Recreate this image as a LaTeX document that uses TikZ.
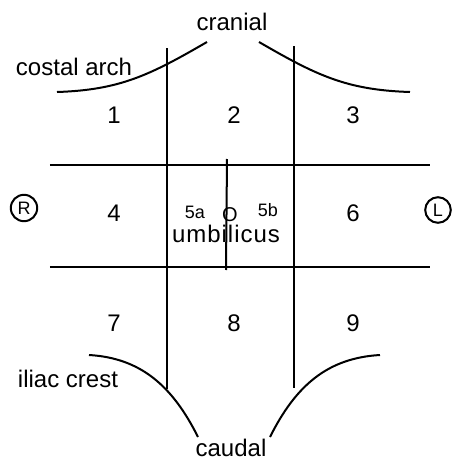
\documentclass[tikz,border=0pt]{standalone}
\usepackage{fontspec}
\setmainfont{Liberation Sans}
\usetikzlibrary{positioning}
\tikzset{
  abd/.style={x=0.5pt, y=-0.5pt, line width=1pt, every node/.style={font=\fontsize{12}{14}\selectfont, inner sep=1pt}},
  sublbl/.style={font=\fontsize{9}{11}\selectfont},
  side/.style={font=\fontsize{9}{11}\selectfont}
}

\begin{document}
\begin{tikzpicture}[abd]
\useasboundingbox (0,0) rectangle (462,461);
% grid of the nine regions
\draw (167,48) -- (167,389); \draw (294,46) -- (294,388);
\draw (50,165) -- (430,165); \draw (50,267) -- (430,267);
\draw (227,159) -- (226,270);
% costal arch and iliac crest
\draw (57,92) .. controls (120,90) and (150,75) .. (207,42);
\draw (259,42) .. controls (316,75) and (346,90) .. (410,92);
\draw (89,355) .. controls (140,358) and (172,385) .. (198,437);
\draw (380,355) .. controls (328,358) and (296,385) .. (270,437);
% labels
\node (cran) at (232,22) {cranial};
\node (caud) at (231,448) {caudal};
\node[anchor=west] (cost) at (13,67) {costal arch};
\node[anchor=west] (ilia) at (15,379) {iliac crest};
\node (r1) at (114,115) {1}; \node (r2) at (234,115) {2}; \node (r3) at (353,115) {3};
\node (r4) at (114,213) {4}; \node (r6) at (353,213) {6};
\node (r7) at (114,323) {7}; \node (r8) at (234,323) {8}; \node (r9) at (353,323) {9};
\node[sublbl] (r5a) at (195,212) {5a}; \node[sublbl] (r5b) at (268,210) {5b};
\node[font=\fontsize{10}{12}\selectfont] (umb) at (230,215) {O};
\node (umbl) at (226,234) {\addfontfeature{LetterSpace=4}umbilicus};
\node[side] (rt) at (24,208) {R}; \node[side] (lt) at (438,210) {L};
\draw (rt) circle [radius=6.6pt] (lt) circle [radius=6.4pt];
\end{tikzpicture}
\end{document}
